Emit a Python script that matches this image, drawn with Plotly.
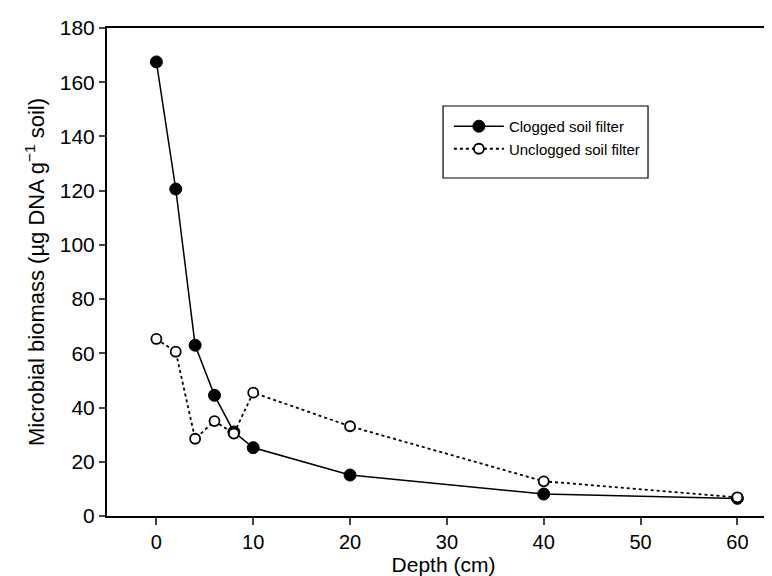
import plotly.graph_objects as go

depth = [0, 2, 4, 6, 8, 10, 20, 40, 60]
clogged = [167.5, 120.6, 63.0, 44.5, 31.0, 25.2, 15.1, 8.1, 6.5]
unclogged = [65.3, 60.6, 28.5, 35.0, 30.4, 45.5, 33.1, 12.8, 6.9]

x_ticks = [0, 10, 20, 30, 40, 50, 60]
y_ticks = [0, 20, 40, 60, 80, 100, 120, 140, 160, 180]

FONT = "Liberation Sans, Arial, sans-serif"

fig = go.Figure()
fig.add_trace(go.Scatter(
    x=depth, y=clogged, mode="lines+markers", name="Clogged soil filter",
    line=dict(color="black", width=1.5),
    marker=dict(symbol="circle", size=12, color="black", line=dict(color="black", width=1)),
))
fig.add_trace(go.Scatter(
    x=depth, y=unclogged, mode="lines+markers", name="Unclogged soil filter",
    line=dict(color="black", width=1.8, dash="dot"),
    marker=dict(symbol="circle", size=10, color="white", line=dict(color="black", width=1.8)),
))

# legend frame
fig.add_shape(type="rect", xref="paper", yref="paper",
              x0=0.4993, x1=0.8039, y0=0.6926, y1=0.8402,
              line=dict(color="black", width=1.2), fillcolor="rgba(0,0,0,0)")

fig.update_layout(
    width=772, height=576,
    margin=dict(l=99, r=0, t=20, b=68),
    paper_bgcolor="white", plot_bgcolor="white",
    font=dict(family=FONT, size=20, color="black"),
    showlegend=True,
    legend=dict(
        x=0.508, y=0.832, xanchor="left", yanchor="top",
        borderwidth=0, bgcolor="rgba(0,0,0,0)",
        font=dict(size=15), tracegroupgap=0, itemwidth=50,
    ),
    xaxis=dict(
        range=[-5.1, 64.4], tickvals=x_ticks, ticks="outside", ticklen=7, tickwidth=1.5,
        showline=True, linecolor="black", linewidth=2, mirror=True,
        showgrid=False, zeroline=False, tickfont=dict(size=20),
        title=dict(text="Depth (cm)", standoff=0, font=dict(size=21)),
    ),
    yaxis=dict(
        range=[0, 180], tickvals=y_ticks, ticks="outside", ticklen=6, tickwidth=1.5,
        showline=True, linecolor="black", linewidth=2,
        showgrid=False, zeroline=False, tickfont=dict(size=21),
        title=dict(text="Microbial biomass (µg DNA g<sup>−1</sup> soil)", standoff=9,
                   font=dict(size=22)),
    ),
)

fig.write_html("out.html")
